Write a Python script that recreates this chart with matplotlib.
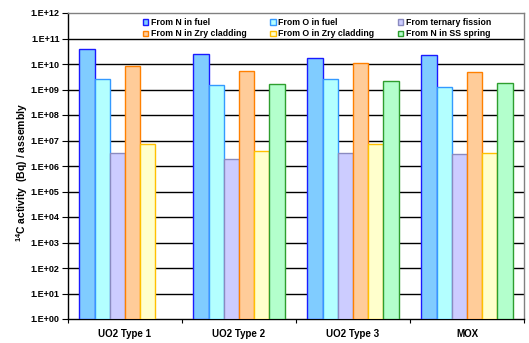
import numpy as np
import matplotlib
matplotlib.use("Agg")
import matplotlib.pyplot as plt
from matplotlib.ticker import FixedLocator, FuncFormatter

plt.rcParams['font.family'] = ['Liberation Sans', 'DejaVu Sans']
plt.rcParams['font.weight'] = 'bold'
plt.rcParams['mathtext.fontset'] = 'custom'
plt.rcParams['mathtext.rm'] = 'Liberation Sans:bold'
plt.rcParams['mathtext.bf'] = 'Liberation Sans:bold'

categories = ["UO2 Type 1", "UO2 Type 2", "UO2 Type 3", "MOX"]
series_names = ["From N in fuel", "From O in fuel", "From ternary fission",
                "From N in Zry cladding", "From O in Zry cladding", "From N in SS spring"]

n_fuel = [3.9e10, 2.5e10, 1.75e10, 2.3e10]
o_fuel = [2.6e9, 1.5e9, 2.6e9, 1.25e9]
ternary = [3.2e6, 1.9e6, 3.2e6, 2.9e6]
n_zry = [8.5e9, 5.4e9, 1.05e10, 4.9e9]
o_zry = [7.3e6, 3.9e6, 7.3e6, 3.2e6]
n_ss = [np.nan, 1.65e9, 2.2e9, 1.8e9]

series_values = [n_fuel, o_fuel, ternary, n_zry, o_zry, n_ss]
fills = ["#80CCFF", "#B3FFFF", "#CCCCFF", "#FFCC99", "#FFFFCC", "#B3FFCC"]
edges = ["#1A1AFF", "#3399FF", "#8A8AC0", "#FF8000", "#FFC000", "#2E9E2E"]

fig = plt.figure(figsize=(5.29, 3.43), dpi=100)
ax = fig.add_axes([68 / 529, 1 - 319 / 343, (524 - 68) / 529, (319 - 13) / 343])

x = np.arange(len(categories))
width = 0.8 / 6
handles = []
for i, (vals, fc, ec, name) in enumerate(zip(series_values, fills, edges, series_names)):
    offs = (i - 2.5) * width
    b = ax.bar(x + offs, vals, width=width, bottom=1, color=fc, edgecolor=ec,
               linewidth=1.0, label=name, zorder=3)
    handles.append(b)

ax.set_yscale('log')
ax.set_ylim(1, 1e12)
ax.set_xlim(-0.5, len(categories) - 0.5)

decades = [10.0 ** k for k in range(13)]
ax.yaxis.set_major_locator(FixedLocator(decades))
ax.yaxis.set_minor_locator(FixedLocator([]))
ax.yaxis.set_major_formatter(FuncFormatter(lambda v, p: "1.E+%02d" % int(round(np.log10(v)))))
for d in decades[1:-1]:
    ax.axhline(d, color='black', linewidth=1.0, zorder=1)

ax.set_xticks(x)
ax.set_xticklabels(categories, fontsize=7, fontweight='bold')
ax.set_xticks(np.arange(-0.5, len(categories)), minor=True)
ax.tick_params(axis='x', which='major', length=0, pad=7)
ax.tick_params(axis='x', which='minor', length=3, direction='out', width=0.8)
ax.tick_params(axis='y', which='major', length=4, direction='out', width=0.8,
               labelsize=6.5, pad=2)
for lab in ax.get_yticklabels():
    lab.set_fontweight('bold')

ax.spines['left'].set_color('black')
ax.spines['bottom'].set_color('black')
ax.spines['top'].set_color('#808080')
ax.spines['right'].set_color('#808080')
for s in ax.spines.values():
    s.set_linewidth(1.0)

ax.set_ylabel("$^{14}$C activity  (Bq) / assembly", fontsize=7.5,
              fontweight='bold', ha='center', va='center')
ax.yaxis.set_label_coords(-0.101, 0.48)

# legend entries laid out row by row
order = [0, 3, 1, 4, 2, 5]
leg = ax.legend([handles[i] for i in order], [series_names[i] for i in order],
                ncol=3, loc='upper left', bbox_to_anchor=(0.1535, 1.0),
                frameon=False, fontsize=6.3, handlelength=0.6, handleheight=0.6,
                handletextpad=0.25, columnspacing=2.75, labelspacing=0.25,
                borderaxespad=0.2)
for t in leg.get_texts():
    t.set_fontweight('bold')

fig.savefig("out.png", dpi=100)
